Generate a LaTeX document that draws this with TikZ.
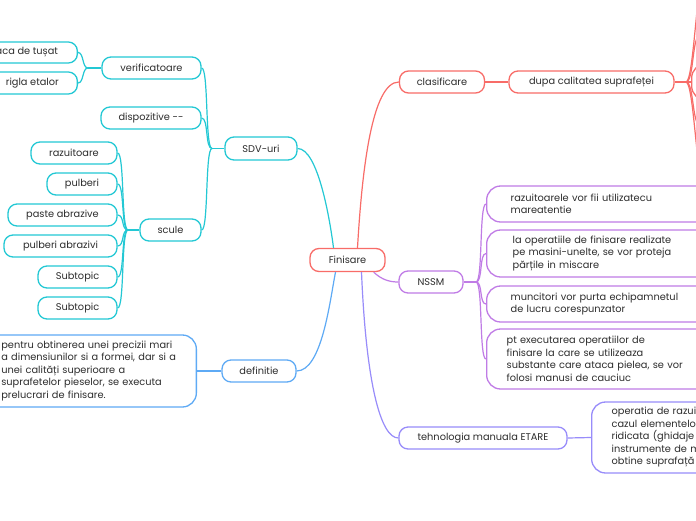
\documentclass[tikz,border=0pt]{standalone}
\usepackage{fontspec}
\setmainfont{Poppins}
\usetikzlibrary{calc}
\definecolor{cred}{RGB}{248,108,104}
\definecolor{ccy}{RGB}{35,200,212}
\definecolor{cblue}{RGB}{94,170,245}
\definecolor{cpur}{RGB}{192,124,230}
\definecolor{clav}{RGB}{152,140,250}
\definecolor{ctxt}{RGB}{45,45,45}
\newcommand{\fs}{\fontsize{9.8}{12.5}\selectfont}
\tikzset{
  box/.style={draw, rounded corners=9pt, line width=1.3pt, fill=white,
    minimum height=22pt, inner sep=0pt, text=ctxt, font=\fs},
  bigbox/.style={draw, rounded corners=14pt, line width=1.3pt, fill=white,
    inner ysep=0pt, text=ctxt, font=\fs, align=left},
  ln/.style={line width=1.2pt},
}
\begin{document}
\begin{tikzpicture}[x=1pt,y=-1pt]
\useasboundingbox (0,0) rectangle (696,520);
\clip (0,0) rectangle (696,520);
\fill[white] (0,0) rectangle (696,520);

% hubs
\coordinate (hsdv) at (212,148.5);
\coordinate (hver) at (88,68);
\coordinate (hsc) at (128,230);
\coordinate (hns) at (476,282);
\coordinate (hdu) at (686,82);
\coordinate (r1) at (705,-30);
\coordinate (r2) at (700,35);
\coordinate (r4) at (700,125);
\coordinate (r5) at (705,190);

% ---------- nodes ----------
\node[box, draw=cred, minimum width=75pt, minimum height=23pt] (fin) at (347.5,260) {Finisare};

\node[box, draw=cred, minimum width=85pt] (cla) at (442,82) {clasificare};
\node[box, draw=cred, minimum width=165pt] (dup) at (591.5,82) {dupa calitatea suprafeței};
\node[box, draw=cred, rounded corners=14pt, minimum width=70pt, minimum height=36pt, anchor=west] (rbox) at (691,82) {};

\node[box, draw=cpur, minimum width=64pt] (nssm) at (431,282) {NSSM};
\node[bigbox, draw=cpur, anchor=west, inner xsep=24pt, text width=250pt, minimum height=36pt] (n1) at (486,204)
  {razuitoarele vor fii utilizatecu\\mareatentie};
\node[bigbox, draw=cpur, anchor=west, inner xsep=26pt, text width=250pt, minimum height=47pt] (n2) at (486,253.5)
  {la operatiile de finisare realizate\\pe masini-unelte, se vor proteja\\părțile in miscare};
\node[bigbox, draw=cpur, anchor=west, inner xsep=24pt, text width=250pt, minimum height=36pt] (n3) at (486,304)
  {muncitori vor purta echipamnetul\\de lucru corespunzator};
\node[bigbox, draw=cpur, anchor=west, inner xsep=20pt, text width=250pt, minimum height=60pt] (n4) at (486,359)
  {pt executarea operatiilor de\\finisare la care se utilizeaza\\substante care ataca pielea, se vor\\folosi manusi de cauciuc};

\node[box, draw=clav, minimum width=168pt] (teh) at (483,438) {tehnologia manuala ETARE};
\node[bigbox, draw=clav, anchor=west, inner xsep=20pt, text width=250pt, minimum height=71pt] (ope) at (591,437.5)
  {operatia de razui\\cazul elementelor\\ridicata (ghidaje\\instrumente de m\\obtine suprafață};

\node[box, draw=ccy, minimum width=72pt, minimum height=23pt] (sdv) at (261,148.5) {SDV-uri};
\node[box, draw=ccy, minimum width=99pt] (ver) at (151.5,68) {verificatoare};
\node[box, draw=ccy, minimum width=110pt, minimum height=21pt, anchor=east] (pla) at (78,52.5) {placa de tușat};
\node[box, draw=ccy, minimum width=90pt, anchor=east] (rig) at (78,83) {rigla etalor};
\node[box, draw=ccy, minimum width=100pt] (dis) at (151,118) {dispozitive {-}{-}};
\node[box, draw=ccy, minimum width=61pt] (scu) at (170.5,230) {scule};
\node[box, draw=ccy, minimum width=86pt] (s1) at (74,153) {razuitoare};
\node[box, draw=ccy, minimum width=70pt] (s2) at (82,184) {pulberi};
\node[box, draw=ccy, minimum width=109pt] (s3) at (62.5,215) {paste abrazive};
\node[box, draw=ccy, minimum width=113pt] (s4) at (60.5,246) {pulberi abrazivi};
\node[box, draw=ccy, minimum width=79pt] (s5) at (77.5,277) {Subtopic};
\node[box, draw=ccy, minimum width=79pt] (s6) at (77.5,308) {Subtopic};

\node[box, draw=cblue, minimum width=74pt] (def) at (259,371) {definitie};
\node[bigbox, draw=cblue, anchor=east, inner xsep=15pt, text width=180pt, minimum height=72pt] (dtx) at (197,371)
  {pentru obtinerea unei precizii mari\\a dimensiunilor si a formei, dar si a\\unei calități superioare a\\suprafetelor pieselor, se executa\\prelucrari de finisare.};

% ---------- connectors ----------
\coordinate (f1) at ($(fin.north)+(10,0)$);
\coordinate (f2) at ($(fin.south east)+(-12,0)$);
\coordinate (f3) at ($(fin.south)+(14,0)$);
\coordinate (f4) at ($(fin.north)+(-14,0)$);
\coordinate (f5) at ($(fin.south)+(-12,0)$);

\draw[ln, cred] (f1) .. controls (362,170) and (372,82) .. (cla.west);
\draw[ln, cred] (cla.east) -- (dup.west);
\draw[ln, cred] (dup.east) -- (hdu);
\draw[ln, cred] (hdu) -- (rbox.west);
\foreach \r in {r1,r2,r4,r5} \draw[ln, cred] (hdu) .. controls +(8,0) and +(-8,0) .. (\r);

\draw[ln, cpur] (f2) .. controls (382,280) and (390,282) .. (nssm.west);
\draw[ln, cpur] (nssm.east) -- (hns);
\foreach \c in {n1,n2,n3,n4} \draw[ln, cpur] (hns) .. controls +(7,0) and +(-7,0) .. (\c.west);

\draw[ln, clav] (f3) .. controls (366,380) and (380,438) .. (teh.west);
\draw[ln, clav] (teh.east) -- (ope.west);

\draw[ln, ccy] (sdv.east) .. controls (318,148.5) and (330,220) .. (f4);
\draw[ln, ccy] (sdv.west) -- (hsdv);
\foreach \c in {ver,dis,scu} \draw[ln, ccy] (hsdv) .. controls +(-7,0) and +(7,0) .. (\c.east);
\draw[ln, ccy] (ver.west) -- (hver);
\foreach \c in {pla,rig} \draw[ln, ccy] (hver) .. controls +(-6,0) and +(6,0) .. (\c.east);
\draw[ln, ccy] (scu.west) -- (hsc);
\foreach \c in {s1,s2,s3,s4,s5,s6} \draw[ln, ccy] (hsc) .. controls +(-7,0) and +(7,0) .. (\c.east);

\draw[ln, cblue] (def.east) .. controls (322,371) and (330,300) .. (f5);
\draw[ln, cblue] (def.west) -- (dtx.east);
\end{tikzpicture}
\end{document}
